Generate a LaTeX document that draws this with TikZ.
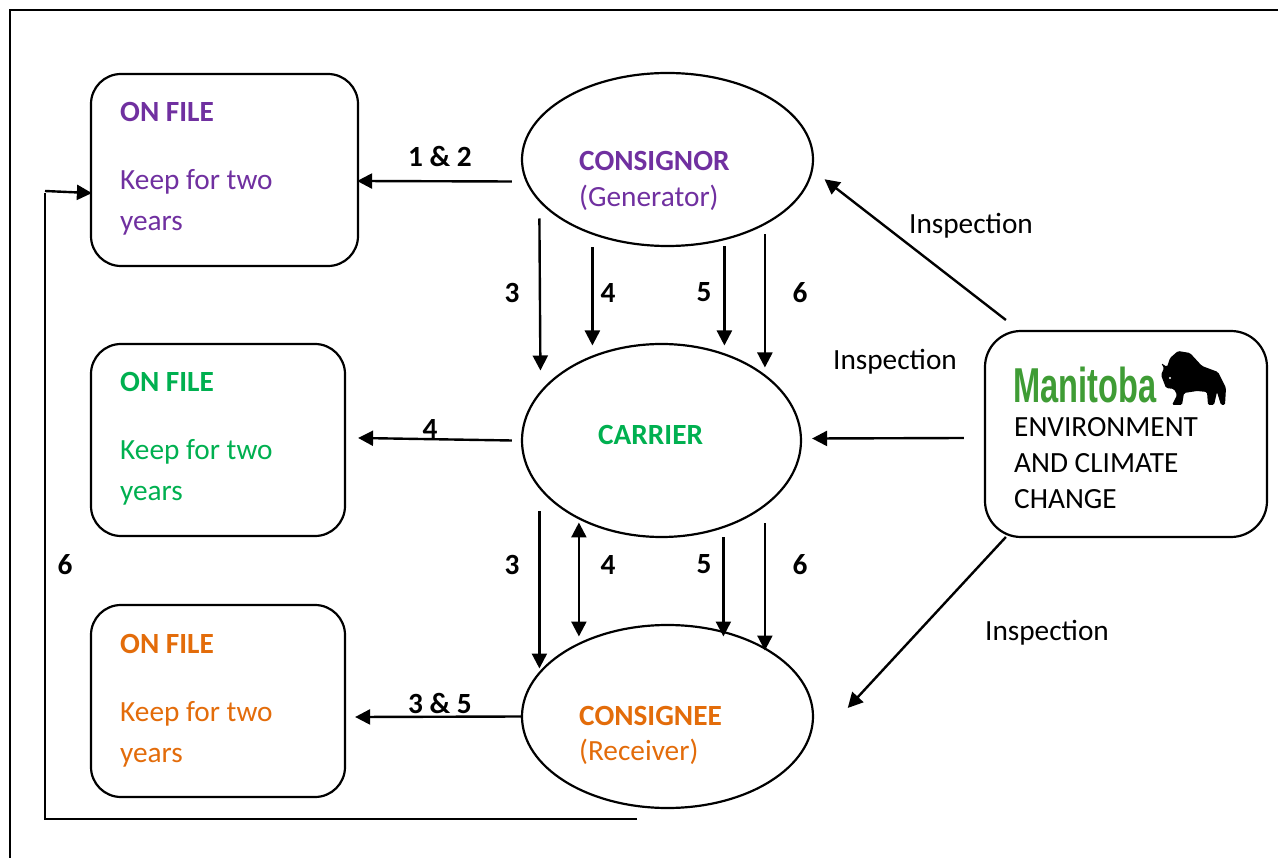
\documentclass[tikz,border=0pt]{standalone}
\usepackage{fontspec}
\setmainfont{Carlito}
\newfontfamily\logofont{Liberation Sans}
\usetikzlibrary{arrows.meta,calc,shapes.geometric}
\definecolor{cpurple}{HTML}{7030A0}
\definecolor{cgreen}{HTML}{00B050}
\definecolor{corange}{HTML}{E36C0A}
\definecolor{mgreen}{HTML}{3F9C35}
\tikzset{
  x=1pt,y=-1pt,
  filebox/.style={draw=black,line width=2.2pt,rounded corners=30pt,inner sep=0pt,fill=white},
  party/.style={draw=black,line width=2.2pt,ellipse,inner sep=0pt,fill=white},
  arr/.style={draw=black,line width=2.4pt,shorten >=-2pt,-{Triangle[length=15pt,width=15pt]}},
  darr/.style={draw=black,line width=2.4pt,shorten >=-2pt,shorten <=-2pt,{Triangle[length=15pt,width=15pt]}-{Triangle[length=15pt,width=15pt]}},
  txt/.style={inner sep=0pt,anchor=base west,yshift=-1pt,font=\fontsize{29.3}{34}\selectfont},
  boldtxt/.style={txt,font=\fontsize{29.3}{34}\selectfont\bfseries},
  num/.style={inner sep=0pt,yshift=-0.5pt,font=\fontsize{29.3}{34}\selectfont\bfseries},
  insp/.style={inner sep=0pt,yshift=-1pt,font=\fontsize{29.3}{34}\selectfont},
}
\begin{document}
\begin{tikzpicture}
\useasboundingbox (0,0) rectangle (1278,858);
\fill[white] (0,0) rectangle (1278,858);
\coordinate (fbl) at (10,858); \coordinate (ftl) at (10,10); \coordinate (ftr) at (1278,10);
\draw[line width=2.4pt] (fbl) -- (ftl) -- (ftr);
% boxes
\node[filebox,minimum width=267pt,minimum height=192pt] (fileA) at (224.5,170) {};
\node[filebox,minimum width=254pt,minimum height=192pt] (fileB) at (218,440) {};
\node[filebox,minimum width=254pt,minimum height=192pt] (fileC) at (218,701) {};
\node[filebox,rounded corners=36pt,minimum width=282pt,minimum height=206pt] (env) at (1126,434) {};
% ellipses
\node[party,minimum width=291pt,minimum height=173pt] (consignor) at (667.5,159.5) {};
\node[party,minimum width=279pt,minimum height=193pt] (carrier) at (661.5,440.5) {};
\node[party,minimum width=291pt,minimum height=183pt] (consignee) at (667.5,716.5) {};
% file text
\node[boldtxt,text=cpurple] (a1) at (120,121) {ON FILE};
\node[txt,text=cpurple] (a2) at (120,189) {Keep for two};
\node[txt,text=cpurple] (a3) at (120,230) {years};
\node[boldtxt,text=cgreen] (b1) at (120,391) {ON FILE};
\node[txt,text=cgreen] (b2) at (120,459) {Keep for two};
\node[txt,text=cgreen] (b3) at (120,500) {years};
\node[boldtxt,text=corange] (c1) at (120,652) {ON FILE};
\node[txt,text=corange] (c2) at (120,720) {Keep for two};
\node[txt,text=corange] (c3) at (120,761) {years};
% ellipse text
\node[boldtxt,text=cpurple] (p1) at (579,170) {CONSIGNOR};
\node[txt,text=cpurple] (p2) at (579,206) {(Generator)};
\node[boldtxt,text=cgreen] (p3) at (598,444) {CARRIER};
\node[boldtxt,text=corange] (p4) at (579,724) {CONSIGNEE};
\node[txt,text=corange] (p5) at (579,759) {(Receiver)};
% Manitoba logo
\node[txt,text=mgreen,font=\fontsize{49}{49}\logofont\bfseries] (logo) at (1013,402) {\scalebox{0.665}[1]{Manitoba}};
\fill[black,rounded corners=1.5pt] (1161,363) -- (1167,367) -- (1170,358) -- (1178,351) -- (1190,353) -- (1202,366)
  -- (1218,372) -- (1226,388) -- (1225,405) -- (1221,405) -- (1217,392) -- (1214,405) -- (1208,405) -- (1207,392)
  -- (1197,391) -- (1184,393) -- (1182,405) -- (1172,405) -- (1177,395) -- (1174,389) -- (1166,388) -- (1161,375) -- (1164,368) -- cycle;
\fill[white] (1170,378) circle (1.2pt);
\node[txt] (e1) at (1014,436) {ENVIRONMENT};
\node[txt] (e2) at (1014,472) {AND CLIMATE};
\node[txt] (e3) at (1014,508) {CHANGE};
% arrows
\draw[arr] ([shift={(-9,22)}]consignor.west) -- ([shift={(0,11)}]fileA.east);
\coordinate (backA) at (45,191);
\coordinate (backB) at (45,819);
\coordinate (backC) at (637,819);
\coordinate (backD) at (45,193);
\draw[line width=2.4pt] (backC) -- (backB) -- (backD);
\draw[arr] (backA) -- ([shift={(0,23)}]fileA.west);
\draw[arr] ([shift={(18.5,59)}]consignor.west) -- ([shift={(19.5,-72)}]carrier.west);
\draw[arr] ([shift={(71.5,88)}]consignor.west) -- ([shift={(71.5,-97)}]carrier.west);
\draw[arr] ([shift={(203.5,87)}]consignor.west) -- ([shift={(203.5,-97)}]carrier.west);
\draw[arr] ([shift={(244,75)}]consignor.west) -- ([shift={(244,-75)}]carrier.west);
\draw[arr] ([shift={(-9,0)}]carrier.west) -- ([shift={(14,-2)}]fileB.east);
\draw[arr] ([shift={(18.5,71)}]carrier.west) -- ([shift={(18.5,-50)}]consignee.west);
\draw[darr] ([shift={(58,84)}]carrier.west) -- ([shift={(58,-82)}]consignee.west);
\draw[arr] ([shift={(202.5,97)}]carrier.west) -- ([shift={(202.5,-82)}]consignee.west);
\draw[arr] ([shift={(244,83)}]carrier.west) -- ([shift={(244,-68)}]consignee.west);
\draw[arr] (consignee.west) -- ([shift={(11,16)}]fileC.east);
\draw[arr] ([shift={(22,-114)}]env.west) -- ([shift={(12,21)}]consignor.east);
\draw[arr] ([shift={(-20,4)}]env.west) -- ([shift={(12,-2)}]carrier.east);
\draw[arr] ([shift={(22,103)}]env.west) -- ([shift={(35,-10)}]consignee.east);
% labels
\node[num] (n1) at (440,156) {1 \& 2};
\node[num] (n2) at (512,292) {3};
\node[num] (n3) at (608,292) {4};
\node[num] (n4) at (704,292) {5};
\node[num] (n5) at (800,292) {6};
\node[num] (n6) at (430,428) {4};
\node[num] (n7) at (512,564) {3};
\node[num] (n8) at (608,564) {4};
\node[num] (n9) at (704,564) {5};
\node[num] (n10) at (800,564) {6};
\node[num] (n11) at (440,703) {3 \& 5};
\node[num] (n12) at (65,564) {6};
\node[insp] (i1) at (971,225) {Inspection};
\node[insp] (i2) at (895,361) {Inspection};
\node[insp] (i3) at (1047,632) {Inspection};
\end{tikzpicture}
\end{document}
